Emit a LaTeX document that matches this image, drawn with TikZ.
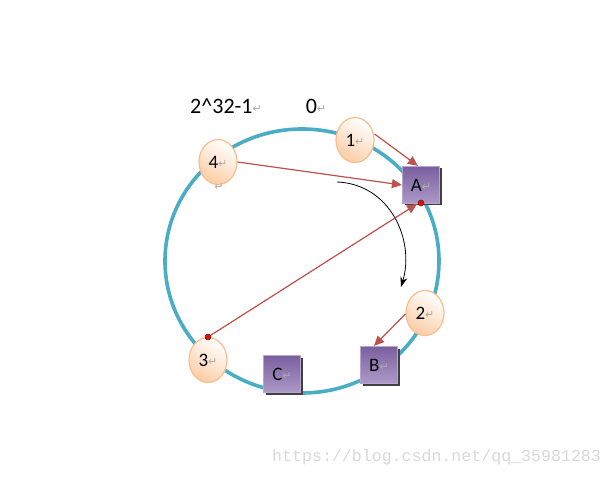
\documentclass[tikz,border=0pt]{standalone}
\usepackage{fontspec}
\setmainfont{Carlito}
\newfontfamily\dejavu{DejaVu Sans}
\newfontfamily\wmfont{Liberation Mono}
\usetikzlibrary{shapes.geometric,arrows.meta,shadows}
\definecolor{ringc}{HTML}{4BACC6}
\definecolor{peach}{HTML}{FBCDA6}
\definecolor{peachline}{HTML}{F9BE8C}
\definecolor{purpletop}{HTML}{7A5F9E}
\definecolor{purplebot}{HTML}{AC9AC8}
\definecolor{purpleline}{HTML}{B6A6CE}
\definecolor{redline}{HTML}{C0504D}
\newcommand{\retmk}{{\dejavu\fontsize{11}{11}\selectfont\color{gray!65}\raisebox{0.5pt}{↵}}}
\tikzset{
  keynode/.style={ellipse, draw=peachline, line width=1.2pt, minimum width=38pt, minimum height=45pt, inner sep=0pt,
     top color=white, bottom color=peach, shading angle=-30, font=\fontsize{19}{19}\selectfont},
  serverbox/.style={rectangle, draw=purpleline, line width=1.2pt, minimum width=37pt, minimum height=37pt, inner sep=0pt,
     top color=purpletop, bottom color=purplebot, font=\fontsize{19}{19}\selectfont,
     drop shadow={shadow xshift=2pt, shadow yshift=-2pt, fill=black!75, opacity=1}},
  maparrow/.style={draw=redline, line width=1.2pt, -{Triangle[width=9pt,length=10pt]}},
  hashdot/.style={circle, fill=red, draw=black!80, line width=0.5pt, minimum size=6pt, inner sep=0pt},
  toplabel/.style={font=\fontsize{22}{22}\selectfont, inner sep=0pt}
}
\begin{document}
\begin{tikzpicture}[x=1pt,y=-1pt]
\useasboundingbox (0,0) rectangle (613,478);
\fill[white] (0,0) rectangle (613,478);
% ring
\draw[ringc, line width=3.6pt] (302,261) ellipse [x radius=137, y radius=132];
% labels
\node[toplabel] (lmax) at (226,106) {2\textasciicircum 32-1\retmk};
\node[toplabel] (lzero) at (316,106) {0\retmk};
% direction arrow
\coordinate (cs) at (337,182);
\coordinate (ce) at (401,287);
\draw[black, line width=0.8pt, -{Stealth[width=7pt,length=10pt]}] (cs) .. controls (390,184) and (415,240) .. (ce);
% servers
\node[serverbox] (A) at (421,185) {A\retmk};
\node[serverbox] (B) at (379,365) {B\retmk};
\node[serverbox] (C) at (282,374) {C\retmk};
% keys
\node[keynode] (k1) at (355,140) {1\retmk};
\node[keynode] (k4) at (218,162) {4\retmk};
\node[keynode] (k2) at (425,313) {2\retmk};
\node[keynode] (k3) at (208,360) {3\retmk};
\node[inner sep=0pt] (stray) at (219,187) {\retmk};
% dots
\node[hashdot] (dA) at (421,203) {};
\node[hashdot] (d3) at (208,337) {};
% mapping arrows
\coordinate (k1s) at ([yshift=6pt]k1.east);
\draw[maparrow] (k1s) -- ([xshift=16pt]A.north west);
\draw[maparrow] (k4.east) -- (A.west);
\draw[maparrow] (d3) -- ([xshift=-4pt,yshift=-1pt]dA.center);
\draw[maparrow] ([yshift=-1pt]k2.west) -- ([xshift=-5pt]B.north);
% watermark
\node[font=\wmfont\fontsize{16.6}{16.6}\selectfont, text=gray!30, anchor=west, inner sep=0pt] (wm) at (272,457) {https://blog.csdn.net/qq\_35981283};
\end{tikzpicture}
\end{document}
